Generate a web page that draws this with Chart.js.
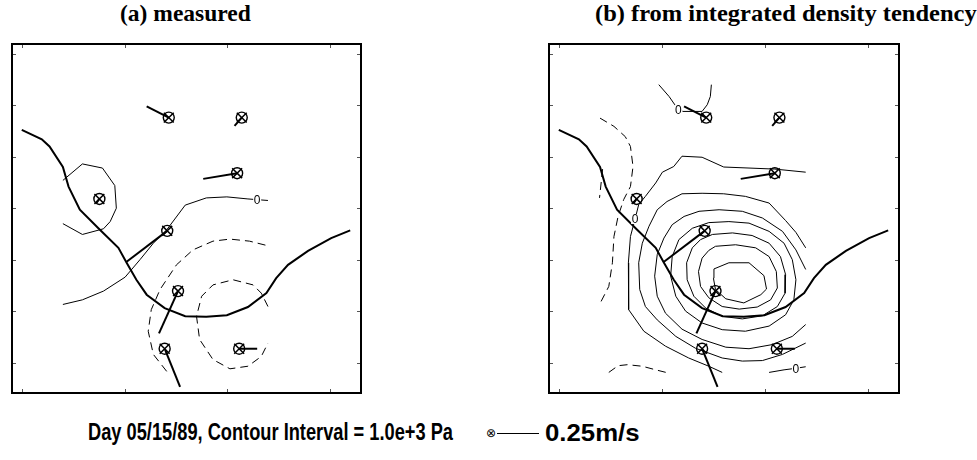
<!DOCTYPE html>
<html>
<head>
<meta charset="utf-8">
<script src="https://cdn.jsdelivr.net/npm/chart.js@4.4.1/dist/chart.umd.min.js"></script>
<style>
  body { margin: 0; background: #fff; }
  #page { position: relative; width: 977px; height: 460px; overflow: hidden; }
  .title { position: absolute; top: 0px; font-family: "Liberation Serif", serif; font-weight: bold; font-size: 24px; white-space: nowrap; transform-origin: left center; }
  .foot { position: absolute; font-family: "Liberation Sans", Arial, sans-serif; font-weight: bold; font-size: 24px; white-space: nowrap; transform-origin: left center; transform: scaleX(0.76); }
  canvas { position: absolute; top: 0; }
</style>
</head>
<body>
<div id="page">
  <div class="title" style="left:120px;transform:scaleX(0.98)">(a) measured</div>
  <div class="title" style="left:595px;transform:scaleX(1.02)">(b) from integrated density tendency</div>
  <canvas id="chartA" width="380" height="410" style="left:0px"></canvas>
  <canvas id="chartB" width="380" height="410" style="left:537px"></canvas>
  <div class="foot" style="left:88px;top:418px">Day 05/15/89, Contour Interval = 1.0e+3 Pa</div>
  <div style="position:absolute;left:486px;top:425px;font-family:'DejaVu Sans';font-size:12px;line-height:16px">&#8855;</div>
  <div style="position:absolute;left:497px;top:433px;width:42px;height:0;border-top:1.5px solid #000"></div>
  <div class="foot" style="left:545px;top:420px;font-size:23px;transform:scaleX(1.12)">0.25m/s</div>
</div>
<script>
// axis ticks (no labels in the original, only inner tick marks)
var xTicks = [0, 2, 4, 6];
var yTicks = [0, 1, 2, 3, 4, 5, 6];

// stations and wind vector tails
var stationX = [2.86, 4.28, 4.19, 1.51, 2.83, 3.04, 2.78, 4.23];
var stationY = [4.76, 4.76, 3.68, 3.18, 2.56, 1.39, 0.27, 0.27];
var windTailX = [2.43, 4.14, 3.53, 1.45, 2.04, 2.67, 3.08, 4.58];
var windTailY = [4.98, 4.60, 3.57, 3.10, 1.96, 0.57, -0.47, 0.27];

// thick curve, same in both panels
var frontX = [0, 0.39, 0.54, 0.80, 0.91, 1.13, 1.52, 1.88, 2.04, 2.23, 2.43, 2.78, 3.18, 3.59, 3.99, 4.40, 4.76, 4.95, 5.18, 5.57, 6.02, 6.39];
var frontY = [4.52, 4.34, 4.20, 3.80, 3.42, 2.97, 2.58, 2.23, 1.94, 1.61, 1.32, 1.06, 0.90, 0.89, 0.92, 1.08, 1.35, 1.64, 1.90, 2.17, 2.42, 2.57];

// (a) measured contours
var measLoop = [[0.80,3.54],[1.18,3.86],[1.57,3.78],[1.81,3.44],[1.84,3.00],[1.72,2.74],[1.59,2.60],[1.18,2.49],[0.80,2.70]];
var measZero = [[0.80,1.13],[1.18,1.22],[1.59,1.39],[2.01,1.66],[2.30,2.00],[2.56,2.32],[2.82,2.58],[3.18,3.06],[3.59,3.20],[3.99,3.22],[4.40,3.18],[4.79,3.15]];
var measNegOuter = [[2.82,-0.17],[2.56,0.16],[2.46,0.61],[2.52,1.03],[2.69,1.42],[3.01,1.90],[3.33,2.19],[3.72,2.36],[4.05,2.40],[4.43,2.36],[4.79,2.27]];
var measNegInner = [[4.79,1.09],[4.66,1.35],[4.50,1.51],[4.11,1.61],[3.72,1.51],[3.50,1.29],[3.40,0.90],[3.46,0.45],[3.72,0.06],[4.05,-0.12],[4.40,-0.07],[4.66,0.12],[4.79,0.38]];
var measLabels = [[4.58,3.17]];

// (b) contours from integrated density tendency
var calcTop = [[1.94,5.40],[2.14,5.17],[2.32,4.91],[2.41,4.88],[2.78,4.88],[2.88,5.01],[2.94,5.17],[2.96,5.40]];
var calcRing0 = [[4.79,3.70],[4.19,3.76],[3.20,3.80],[2.78,3.99],[2.39,4.01],[2.23,3.81],[2.01,3.70],[1.88,3.49],[1.68,3.23],[1.55,3.07],[1.48,2.79],[1.39,2.45],[1.35,1.94],[1.35,1.42],[1.36,1.03],[1.65,0.61],[2.07,0.32],[2.52,0.09],[2.91,-0.07],[3.17,-0.19]];
var calcZeroBR = [[4.08,-0.19],[4.37,-0.14],[4.60,-0.11],[4.79,-0.08]];
var calcRing1 = [[4.79,2.23],[4.60,2.53],[4.40,2.76],[4.08,3.10],[3.62,3.23],[3.20,3.28],[2.78,3.29],[2.39,3.28],[2.10,3.13],[1.91,2.97],[1.75,2.65],[1.62,2.32],[1.55,1.94],[1.57,1.42],[1.68,1.09],[1.91,0.83],[2.27,0.51],[2.65,0.28],[3.17,0.09],[3.56,0.03],[3.95,0.04],[4.34,0.16],[4.79,0.38]];
var calcRing2 = [[4.79,1.81],[4.60,2.19],[4.34,2.55],[3.95,2.81],[3.56,2.94],[3.11,2.97],[2.72,2.94],[2.43,2.84],[2.20,2.68],[2.04,2.42],[1.91,2.10],[1.86,1.68],[1.91,1.29],[2.07,0.96],[2.39,0.65],[2.78,0.45],[3.24,0.30],[3.69,0.27],[4.14,0.35],[4.53,0.51],[4.79,0.74]];
var calcRing3 = [[2.91,2.72],[3.30,2.74],[3.69,2.71],[4.08,2.55],[4.37,2.32],[4.53,2.00],[4.60,1.61],[4.56,1.22],[4.40,0.93],[4.08,0.71],[3.62,0.61],[3.17,0.64],[2.78,0.77],[2.46,1.00],[2.27,1.29],[2.17,1.68],[2.20,2.06],[2.33,2.39],[2.59,2.61],[2.91,2.72]];
var calcRing4 = [[2.98,2.49],[3.37,2.52],[3.75,2.47],[4.08,2.32],[4.30,2.06],[4.40,1.71],[4.39,1.35],[4.24,1.09],[3.95,0.91],[3.56,0.85],[3.17,0.90],[2.85,1.06],[2.62,1.29],[2.49,1.61],[2.48,1.94],[2.59,2.23],[2.75,2.39],[2.98,2.49]];
var calcRing5 = [[3.04,2.26],[3.43,2.29],[3.82,2.23],[4.08,2.06],[4.22,1.77],[4.24,1.45],[4.11,1.22],[3.85,1.08],[3.50,1.04],[3.17,1.09],[2.91,1.26],[2.75,1.48],[2.71,1.77],[2.78,2.03],[2.91,2.18],[3.04,2.26]];
var calcRing6 = [[3.01,1.82],[3.30,1.94],[3.69,1.94],[3.98,1.69],[4.03,1.43],[3.92,1.32],[3.59,1.16],[3.24,1.24],[3.04,1.42],[3.00,1.64],[3.01,1.82]];
var calcNegLeft = [[0.80,4.75],[1.07,4.59],[1.29,4.39],[1.39,4.20],[1.44,3.81],[1.39,3.42],[1.26,3.17],[1.15,2.84],[1.07,2.45],[1.04,1.94],[0.97,1.48],[0.79,1.13]];
var calcNegShort = [[0.85,3.76],[0.79,3.20]];
var calcNegBottom = [[0.97,-0.19],[1.15,-0.06],[1.33,-0.04],[1.62,-0.07],[1.88,-0.14],[2.08,-0.19]];
var calcLabels = [[2.32,4.91],[1.48,2.79],[4.60,-0.11]];

function pts(arr) {
    return arr.map(function (p) { return { x: p[0], y: p[1] }; });
}

function lineSet(arr, width, dash) {
    return {
        data: pts(arr),
        showLine: true,
        borderColor: '#000',
        borderWidth: width,
        borderDash: dash || [],
        pointRadius: 0,
        tension: 0,
        fill: false
    };
}

function commonSets() {
    var sets = [];
    sets.push(lineSet(frontX.map(function (x, i) { return [x, frontY[i]]; }), 2));
    stationX.forEach(function (x, i) {
        sets.push(lineSet([[x, stationY[i]], [windTailX[i], windTailY[i]]], 2));
    });
    var st = stationX.map(function (x, i) { return { x: x, y: stationY[i] }; });
    sets.push({ data: st, showLine: false, pointStyle: 'circle', pointRadius: 5.5, pointBorderWidth: 1.4, pointBorderColor: '#000', pointBackgroundColor: 'rgba(255,255,255,0)' });
    sets.push({ data: st, showLine: false, pointStyle: 'crossRot', pointRadius: 7, pointBorderWidth: 1.5, pointBorderColor: '#000' });
    return sets;
}

var framePlugin = {
    id: 'frame',
    afterDatasetsDraw: function (chart, args, opts) {
        var ctx = chart.ctx, a = chart.chartArea;
        var xs = chart.scales.x, ys = chart.scales.y;
        ctx.save();
        // contour labels
        ctx.font = '12px "Liberation Sans", Arial, sans-serif';
        ctx.textAlign = 'center';
        ctx.textBaseline = 'middle';
        (opts.labels || []).forEach(function (p) {
            var px = xs.getPixelForValue(p[0]), py = ys.getPixelForValue(p[1]);
            ctx.fillStyle = '#fff';
            ctx.fillRect(px - 4, py - 5, 8, 10);
            ctx.fillStyle = '#000';
            ctx.fillText('0', px, py + 1);
        });
        // inner tick marks
        ctx.strokeStyle = '#555';
        ctx.lineWidth = 1;
        ctx.beginPath();
        xTicks.forEach(function (t) {
            var px = Math.round(xs.getPixelForValue(t)) + 0.5;
            ctx.moveTo(px, a.bottom); ctx.lineTo(px, a.bottom - 4);
            ctx.moveTo(px, a.top); ctx.lineTo(px, a.top + 4);
        });
        yTicks.forEach(function (t) {
            var py = Math.round(ys.getPixelForValue(t)) + 0.5;
            ctx.moveTo(a.left, py); ctx.lineTo(a.left + 4, py);
            ctx.moveTo(a.right, py); ctx.lineTo(a.right - 4, py);
        });
        ctx.stroke();
        // box
        ctx.strokeStyle = '#000';
        ctx.lineWidth = 2;
        ctx.strokeRect(a.left, a.top, a.right - a.left, a.bottom - a.top);
        ctx.restore();
    }
};

function makeChart(id, contourSets, labels, padRight) {
    new Chart(document.getElementById(id).getContext('2d'), {
        type: 'scatter',
        data: { datasets: commonSets().concat(contourSets) },
        options: {
            responsive: false,
            animation: false,
            devicePixelRatio: 1,
            layout: { padding: { left: 12, top: 44, right: padRight, bottom: 17 } },
            scales: {
                x: { type: 'linear', min: -0.19, max: 6.6, display: false },
                y: { type: 'linear', min: -0.59, max: 6.19, display: false }
            },
            plugins: {
                legend: { display: false },
                tooltip: { enabled: false },
                frame: { labels: labels }
            }
        },
        plugins: [framePlugin]
    });
}

var dash = [8, 5];
makeChart('chartA', [
    lineSet(measLoop, 1),
    lineSet(measZero, 1),
    lineSet(measNegOuter, 1, dash),
    lineSet(measNegInner, 1, dash)
], measLabels, 19);

makeChart('chartB', [
    lineSet(calcTop, 1),
    lineSet(calcRing0, 1),
    lineSet(calcZeroBR, 1),
    lineSet(calcRing1, 1),
    lineSet(calcRing2, 1),
    lineSet(calcRing3, 1),
    lineSet(calcRing4, 1),
    lineSet(calcRing5, 1),
    lineSet(calcRing6, 1),
    lineSet(calcNegLeft, 1, dash),
    lineSet(calcNegShort, 1, dash),
    lineSet(calcNegBottom, 1, dash)
], calcLabels, 18);
</script>
</body>
</html>
